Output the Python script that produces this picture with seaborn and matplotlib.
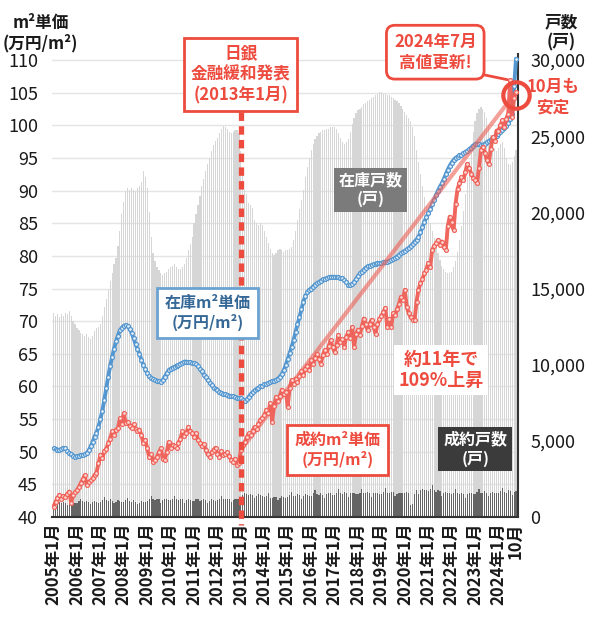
import numpy as np
import pandas as pd
import matplotlib
matplotlib.use("Agg")
import matplotlib.pyplot as plt
import seaborn as sns

# monthly, 2005-01 .. 2024-10
stock_price = [
    50.5, 50.4, 50.3, 50.2, 50.4, 50.6, 50.5, 50.1, 49.8, 49.6, 49.4, 49.2,
    49.3, 49.4, 49.5, 49.5, 49.6, 49.8, 50.2, 50.8, 51.5, 52.3, 52.9, 53.8,
    55.0, 56.3, 57.9, 59.7, 61.5, 63.1, 64.5, 65.8, 66.9, 67.8, 68.6, 69.0,
    69.3, 69.4, 69.2, 68.8, 68.2, 67.4, 66.5, 65.7, 65.0, 64.1, 63.3, 62.6,
    62.0, 61.6, 61.3, 61.1, 61.0, 60.9, 60.8, 60.7, 61.0, 61.5, 62.0, 62.5,
    62.7, 62.9, 63.0, 63.2, 63.3, 63.5, 63.6, 63.8, 63.8, 63.7, 63.7, 63.6,
    63.6, 63.4, 63.1, 62.7, 62.3, 61.8, 61.4, 61.0, 60.6, 60.2, 59.8, 59.6,
    59.4, 59.2, 59.0, 58.9, 58.8, 58.7, 58.6, 58.5, 58.5, 58.4, 58.3, 58.2,
    58.2, 57.9, 57.7, 58.0, 58.4, 58.8, 59.1, 59.4, 59.6, 59.8, 60.0, 60.1,
    60.3, 60.4, 60.5, 60.7, 60.8, 60.9, 61.0, 61.2, 61.5, 61.9, 62.5, 63.3,
    64.2, 65.1, 66.1, 67.1, 68.3, 69.5, 70.6, 71.8, 73.0, 73.8, 74.4, 74.8,
    75.0, 75.3, 75.6, 75.8, 76.0, 76.2, 76.4, 76.5, 76.6, 76.7, 76.8, 76.8,
    76.8, 76.7, 76.7, 76.6, 76.6, 76.3, 76.0, 75.6, 75.5, 75.7, 76.0, 76.4,
    76.9, 77.3, 77.6, 77.9, 78.2, 78.4, 78.5, 78.6, 78.7, 78.8, 78.9, 78.9,
    78.9, 79.0, 79.1, 79.1, 79.2, 79.3, 79.5, 79.7, 79.9, 80.1, 80.4, 80.6,
    80.8, 81.0, 81.2, 81.5, 81.8, 82.2, 82.5, 82.9, 83.6, 84.4, 85.2, 85.9,
    86.5, 87.2, 87.9, 88.6, 89.3, 90.0, 90.6, 91.1, 91.8, 92.5, 93.2, 93.8,
    94.3, 94.7, 95.0, 95.2, 95.4, 95.5, 95.7, 95.9, 96.1, 96.3, 96.6, 96.9,
    97.1, 97.2, 97.1, 97.0, 97.0, 97.2, 97.4, 97.6, 97.8, 98.0, 98.2, 98.4,
    98.7, 99.0, 99.3, 99.6, 99.9, 100.4, 101.0, 101.8, 106.0, 110.2,
]
sold_price = [
    41.6, 42.3, 42.9, 43.4, 42.8, 43.2, 43.1, 43.5, 43.9, 42.2, 43.3, 43.8,
    44.1, 44.6, 45.2, 45.8, 46.4, 44.9, 45.3, 45.6, 45.9, 46.4, 46.8, 48.2,
    49.5, 49.0, 50.1, 50.4, 51.3, 52.0, 53.1, 52.6, 53.4, 53.6, 55.1, 54.2,
    55.9, 54.4, 54.6, 54.0, 53.6, 54.2, 53.5, 53.1, 53.4, 52.6, 51.3, 51.8,
    50.5, 49.2, 49.6, 48.5, 48.8, 49.2, 49.9, 50.5, 48.9, 48.7, 50.0, 51.5,
    50.6, 51.1, 50.8, 50.6, 51.4, 52.0, 53.1, 52.4, 52.8, 53.8, 53.2, 52.9,
    52.3, 52.8, 51.8, 51.4, 50.8, 51.2, 50.3, 49.6, 49.2, 49.9, 50.3, 50.6,
    49.6, 49.2, 50.1, 49.5, 49.7, 49.9, 49.3, 48.8, 48.5, 48.9, 48.0, 48.3,
    50.3, 51.0, 51.5, 52.2, 52.8, 52.5, 53.2, 53.8, 53.5, 54.3, 54.9, 55.2,
    55.6, 56.4, 55.9, 57.4, 54.6, 57.0, 58.4, 57.8, 58.6, 59.5, 58.8, 59.2,
    56.9, 59.8, 61.0, 60.4, 61.2, 60.7, 61.6, 62.3, 61.8, 62.6, 63.2, 62.5,
    64.0, 63.4, 64.3, 65.0, 64.2, 63.5, 64.8, 65.6, 65.0, 66.2, 67.1, 66.0,
    65.3, 66.4, 67.9, 66.8, 67.2, 66.1, 67.6, 68.3, 67.4, 69.1, 66.1, 68.0,
    68.7, 67.9, 69.2, 70.4, 69.5, 68.6, 69.6, 70.2, 69.1, 68.1, 69.5, 70.3,
    70.8, 71.4, 72.0, 69.1, 70.3, 69.1, 71.2, 70.9, 71.8, 72.6, 73.7, 73.2,
    74.8, 72.2, 71.2, 70.6, 70.2, 70.2, 73.0, 74.8, 75.8, 76.4, 77.3, 77.9,
    78.9, 78.3, 80.9, 81.5, 81.9, 82.4, 81.6, 82.2, 81.4, 80.9, 84.5, 86.0,
    85.2, 84.0, 88.0, 90.2, 91.1, 92.1, 91.6, 92.8, 94.1, 93.4, 92.6, 92.0,
    91.6, 91.1, 93.5, 96.2, 96.7, 95.8, 94.7, 94.1, 96.3, 98.2, 97.6, 99.2,
    99.2, 100.0, 100.8, 99.8, 101.0, 101.8, 106.9, 101.2, 104.2, 105.1,
]
stock_units = [
    13400, 13200, 13300, 13100, 13300, 13200, 13400, 13300, 13500, 13200, 12900, 12700,
    12400, 12300, 12100, 12000, 11900, 12000, 11800, 11700, 11900, 12200, 12400, 12500,
    12700, 13200, 13800, 14300, 14900, 15500, 16000, 16600, 17000, 17800, 18800, 19900,
    20700, 21400, 21600, 21500, 21600, 21500, 21400, 21600, 21700, 22000, 22700, 22300,
    21600, 20000, 18400, 17300, 16800, 16400, 16200, 16000, 15900, 16000, 16100, 16300,
    16400, 16500, 16600, 16400, 16300, 16300, 16400, 16600, 17000, 17500, 17900, 18400,
    19300, 19900, 20500, 21100, 21700, 22200, 22700, 23200, 23600, 24000, 24400, 24700,
    24900, 25200, 25500, 25700, 25600, 25500, 25300, 25200, 25300, 25400, 25400, 25200,
    24000, 22600, 21500, 21200, 20600, 20500, 20300, 19500, 19300, 19200, 19300, 19200,
    18800, 18400, 18000, 17600, 17300, 17200, 17300, 17500, 17600, 17500, 17400, 17500,
    17500, 17600, 17700, 18200, 18800, 19500, 20200, 20800, 21500, 22300, 23000, 23600,
    24100, 24500, 24800, 25000, 25200, 25300, 25400, 25400, 25500, 25500, 25600, 25600,
    25600, 25500, 25200, 24900, 24600, 24500, 24600, 24800, 25300, 25800, 26200, 26500,
    26700, 26800, 26900, 27100, 27200, 27300, 27400, 27500, 27600, 27700, 27800, 27900,
    27900, 27800, 27800, 27700, 27700, 27600, 27500, 27400, 27300, 27200, 27000, 26800,
    26600, 26400, 26200, 26000, 25600, 25000, 24100, 23300, 22500, 21700, 21000, 20400,
    19800, 19300, 18800, 18300, 17800, 17300, 16900, 16500, 16300, 16100, 16000, 16000,
    16100, 16400, 16800, 17400, 18200, 19100, 20100, 21200, 22300, 23400, 24400, 25300,
    26000, 26500, 26800, 26900, 26800, 26600, 26200, 25700, 25100, 24600, 24200, 24000,
    24200, 24500, 24600, 24200, 23600, 23200, 23100, 23300, 23700, 24100,
]
sold_units = [
    950, 1000, 1150, 1000, 900, 1000, 950, 800, 950, 1000, 950, 900,
    950, 1050, 1200, 1050, 1000, 1050, 1000, 850, 1000, 1050, 1000, 950,
    1000, 1100, 1300, 1100, 1050, 1150, 1050, 900, 1000, 1100, 1050, 1000,
    1000, 1100, 1250, 1050, 1000, 1100, 1000, 850, 950, 1050, 1000, 1000,
    1050, 1150, 1350, 1150, 1100, 1200, 1150, 950, 1100, 1200, 1150, 1100,
    1100, 1200, 1400, 1150, 1100, 1200, 1150, 950, 1100, 1150, 1100, 1050,
    1050, 1150, 1200, 1050, 1100, 1150, 1100, 900, 1050, 1150, 1100, 1050,
    1100, 1200, 1400, 1150, 1150, 1200, 1200, 1000, 1100, 1200, 1200, 1150,
    1300, 1450, 1600, 1500, 1450, 1500, 1450, 1250, 1400, 1500, 1450, 1350,
    1300, 1400, 1550, 1250, 1250, 1300, 1300, 1100, 1250, 1350, 1300, 1250,
    1300, 1450, 1650, 1400, 1350, 1500, 1450, 1200, 1400, 1500, 1450, 1350,
    1400, 1550, 1750, 1500, 1450, 1600, 1450, 1250, 1500, 1550, 1550, 1450,
    1450, 1600, 1850, 1550, 1500, 1650, 1550, 1300, 1550, 1550, 1600, 1500,
    1500, 1600, 1850, 1550, 1550, 1650, 1600, 1300, 1550, 1600, 1600, 1500,
    1500, 1650, 1900, 1550, 1550, 1650, 1650, 1350, 1500, 1550, 1600, 1550,
    1550, 1650, 1550, 800, 850, 1500, 1750, 1500, 1750, 1850, 1800, 1750,
    1700, 1850, 2100, 1800, 1650, 1800, 1700, 1400, 1600, 1650, 1600, 1550,
    1500, 1600, 1850, 1550, 1500, 1600, 1500, 1250, 1500, 1550, 1550, 1500,
    1500, 1650, 1850, 1600, 1550, 1700, 1550, 1350, 1550, 1650, 1600, 1550,
    1550, 1700, 1900, 1650, 1600, 1750, 1700, 1450, 1650, 1700,
]
tick_months = list(range(0, 229, 12)) + [237]
tick_labels = [f"{y}年1月" for y in range(2005, 2025)] + ["10月"]

df = pd.DataFrame({
    "m": np.arange(len(stock_price)),
    "stock_price": stock_price,
    "sold_price": sold_price,
    "stock_units": stock_units,
    "sold_units": sold_units,
})

sns.set_theme(style="white")
plt.rcParams["font.family"] = ["Noto Sans CJK JP", "DejaVu Sans"]

RED = "#ee4b3f"
LINE_RED = "#ef5f56"
BLUE = "#5496cf"

fig = plt.figure(figsize=(6, 6.2), dpi=100)
ax = fig.add_axes([52 / 600, 1 - 517 / 620, 466 / 600, (517 - 53.5) / 620])
ax2 = ax.twinx()
ax.set_zorder(ax2.get_zorder() + 1)
ax.patch.set_visible(False)

# counts on the right axis
top_units = 30000 * 71 / 70
for p in range(45, 111, 5):
    ax2.axhline((p - 40) / 70 * 30000, color="#e4e4e4", lw=1, zorder=0)
sns.barplot(data=df, x="m", y="stock_units", ax=ax2, native_scale=True, color="#d6d6d6",
            width=0.6, saturation=1, errorbar=None, linewidth=0, zorder=1)
sns.barplot(data=df, x="m", y="sold_units", ax=ax2, native_scale=True, color="#646464",
            width=0.6, saturation=1, errorbar=None, linewidth=0, zorder=2)

# prices on the left axis
sns.lineplot(data=df, x="m", y="stock_price", ax=ax, color=BLUE, lw=2.8, marker="o",
             markersize=2.8, markerfacecolor="#eaf3fb", markeredgecolor=BLUE,
             markeredgewidth=0.9, zorder=3)
ax.plot([96, 237], [sold_price[96], sold_price[237]], color=LINE_RED, lw=3, alpha=0.6,
        solid_capstyle="butt", zorder=4)
sns.lineplot(data=df, x="m", y="sold_price", ax=ax, color=LINE_RED, lw=2.8, marker="o",
             markersize=2.8, markerfacecolor="#fde3e0", markeredgecolor=LINE_RED,
             markeredgewidth=0.9, alpha=0.95, zorder=5)

ax.plot([96, 96], [102.0, 38.75], color=RED, lw=3.8, ls=(0, (1.6, 1.0)),
        clip_on=False, zorder=6)

ax.set_xlim(-0.8, 238)
ax.set_ylim(40, 111)
ax2.set_ylim(0, top_units)
ax.set_xlabel("")
ax.set_ylabel("")
ax2.set_ylabel("")

ax.set_yticks(range(40, 111, 5))
ax.tick_params(axis="y", length=0, pad=10, labelsize=13, labelcolor="#1a1a1a")
ax2.set_yticks(range(0, 30001, 5000))
ax2.set_yticklabels([f"{v:,}" for v in range(0, 30001, 5000)])
ax2.tick_params(axis="y", length=0, pad=9, labelsize=13, labelcolor="#1a1a1a")
ax.set_xticks(tick_months)
ax.set_xticklabels(tick_labels, rotation=90, fontsize=12, fontweight="bold")
ax.tick_params(axis="x", length=0, pad=4, labelcolor="#1a1a1a")

for a in (ax, ax2):
    for s in ("top", "left", "right", "bottom"):
        a.spines[s].set_visible(False)
ax.spines["bottom"].set_visible(True)
ax.spines["bottom"].set_color("#333333")
ax.spines["bottom"].set_linewidth(1.5)
ax2.spines["right"].set_visible(True)
ax2.spines["right"].set_color("#333333")
ax2.spines["right"].set_linewidth(1.5)

# axis titles
fig.text(0.068, 0.978, "m²単価\n(万円/m²)", ha="center", va="top", fontsize=12,
         fontweight="bold", color="#1a1a1a", linespacing=1.15)
fig.text(0.935, 0.978, "戸数\n(戸)", ha="center", va="top", fontsize=12,
         fontweight="bold", color="#1a1a1a", linespacing=1.15)

# annotations
ax.text(96, 107.8, "日銀\n金融緩和発表\n(2013年1月)", ha="center", va="center", color=RED,
        fontsize=12, fontweight="bold", linespacing=1.2,
        bbox=dict(boxstyle="square,pad=0.4", fc="white", ec=RED, lw=2))
ax.annotate("2024年7月\n高値更新!", xy=(234, 106.9), xytext=(195.6, 111.2),
            ha="center", va="center", color=RED, fontsize=12, fontweight="bold",
            linespacing=1.2, annotation_clip=False,
            bbox=dict(boxstyle="round,pad=0.45,rounding_size=0.5", fc="white", ec=RED, lw=2),
            arrowprops=dict(arrowstyle="-", color=RED, lw=2, relpos=(0.9, 0.0),
                            shrinkA=0, shrinkB=2))
ax.plot([237], [104.6], marker="o", ms=19, mfc="none", mec=RED, mew=3,
        clip_on=False, zorder=10)
ax.text(256, 104.3, "10月も\n安定", ha="center", va="center", color=RED, fontsize=12,
        fontweight="bold", linespacing=1.15, clip_on=False)

ax.text(78.9, 71.2, "在庫m²単価\n(万円/m²)", ha="center", va="center", color="#356896",
        fontsize=11.5, fontweight="bold", linespacing=1.2, zorder=8,
        bbox=dict(boxstyle="square,pad=0.45", fc="white", ec="#6aa3d2", lw=2))
ax.text(162.4, 90.1, "在庫戸数\n(戸)", ha="center", va="center", color="white",
        fontsize=11.5, fontweight="bold", linespacing=1.2, zorder=8,
        bbox=dict(boxstyle="square,pad=0.3", fc="#7b7b7b", ec="none"))
ax.text(145.4, 50.3, "成約m²単価\n(万円/m²)", ha="center", va="center", color=RED,
        fontsize=11.5, fontweight="bold", linespacing=1.2, zorder=8,
        bbox=dict(boxstyle="square,pad=0.45", fc="white", ec=RED, lw=2))
ax.text(198.7, 62.5, "約11年で\n109%上昇", ha="center", va="center", color=RED,
        fontsize=13, fontweight="bold", linespacing=1.15, zorder=8,
        bbox=dict(boxstyle="square,pad=0.25", fc="white", ec="none"))
ax.text(216.1, 50.4, "成約戸数\n(戸)", ha="center", va="center", color="white",
        fontsize=11.5, fontweight="bold", linespacing=1.2, zorder=8,
        bbox=dict(boxstyle="square,pad=0.3", fc="#3b3b3b", ec="none"))

fig.savefig("out.png", dpi=100)
